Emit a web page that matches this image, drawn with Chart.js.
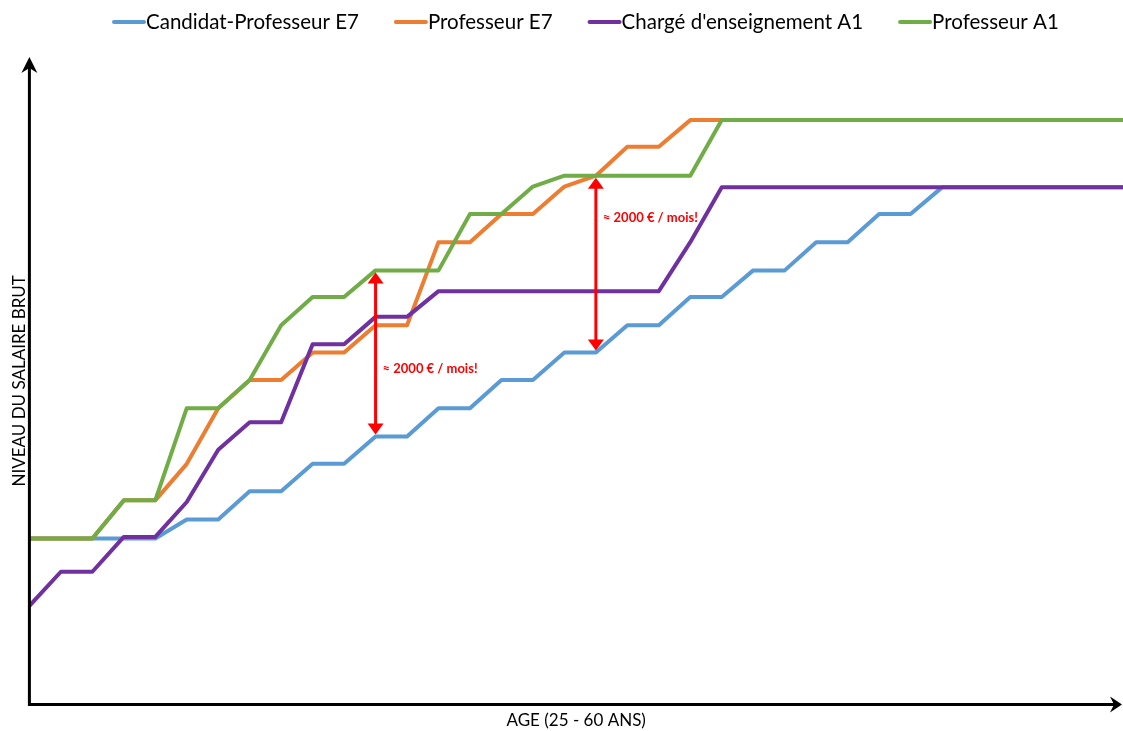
<!DOCTYPE html>
<html>
<head>
<meta charset="utf-8">
<title>Niveau du salaire brut</title>
<script src="https://cdn.jsdelivr.net/npm/chart.js@4.4.1/dist/chart.umd.min.js"></script>
<style>
  html, body { margin: 0; padding: 0; background: #fff; overflow: hidden; }
  #wrap { width: 1123px; height: 731px; position: relative; }
</style>
</head>
<body>
<div id="wrap"><canvas id="salaryChart"></canvas></div>
<script>
'use strict';

// Data (ages on x, gross salary level, in € / month)
let ages = [25, 26, 27, 28, 29, 30, 31, 32, 33, 34, 35, 36, 37, 38, 39, 40, 41, 42,
  43, 44, 45, 46, 47, 48, 49, 50, 51, 52, 53, 54, 55, 56, 57, 58, 59, 60];

let seriesNames = ['Candidat-Professeur E7', 'Professeur E7', "Chargé d'enseignement A1", 'Professeur A1'];
let seriesColors = ['#5B9BD5', '#ED7D31', '#7030A0', '#70AD47'];

let candidatE7 = [2000, 2000, 2000, 2000, 2000, 2230, 2230, 2570, 2570, 2900, 2900, 3230,
  3230, 3570, 3570, 3910, 3910, 4240, 4240, 4570, 4570, 4910, 4910, 5230,
  5230, 5570, 5570, 5910, 5910, 6230, 6230, 6230, 6230, 6230, 6230, 6230];
let professeurE7 = [2000, 2000, 2000, 2460, 2460, 2900, 3570, 3910, 3910, 4240, 4240, 4570,
  4570, 5570, 5570, 5910, 5910, 6240, 6370, 6720, 6720, 7040, 7040, 7040,
  7040, 7040, 7040, 7040, 7040, 7040, 7040, 7040, 7040, 7040, 7040, 7040];
let chargeA1 = [1190, 1600, 1600, 2020, 2020, 2440, 3070, 3400, 3400, 4340, 4340, 4670,
  4670, 4980, 4980, 4980, 4980, 4980, 4980, 4980, 4980, 5570, 6230, 6230,
  6230, 6230, 6230, 6230, 6230, 6230, 6230, 6230, 6230, 6230, 6230, 6230];
let professeurA1 = [2000, 2000, 2000, 2460, 2460, 3570, 3570, 3910, 4570, 4910, 4910, 5230,
  5230, 5230, 5910, 5910, 6240, 6370, 6370, 6370, 6370, 6370, 7040, 7040,
  7040, 7040, 7040, 7040, 7040, 7040, 7040, 7040, 7040, 7040, 7040, 7040];

// the two "gap" arrows, from Professeur A1 down to Candidat-Professeur E7
let gapAges = [36, 43];
let gapTextLevels = [4040, 5860];
let gapText = '≈ 2000 € / mois!';

let fontFamily = "Lato, 'Open Sans', sans-serif";

function toPoints(values) {
  return ages.map((age, i) => ({ x: age, y: values[i] }));
}

// arrow head helper, tip at (x, y)
function arrowHead(ctx, x, y, angle, len, half, notch) {
  ctx.save();
  ctx.translate(x, y);
  ctx.rotate(angle);
  ctx.beginPath();
  ctx.moveTo(0, 0);
  ctx.lineTo(-len, -half);
  ctx.lineTo(-len + notch, 0);
  ctx.lineTo(-len, half);
  ctx.closePath();
  ctx.fill();
  ctx.restore();
}

// Axis lines with arrows + the red annotations
const arrowsPlugin = {
  id: 'arrows',
  afterDatasetsDraw(chart) {
    const ctx = chart.ctx;
    const area = chart.chartArea;
    const xScale = chart.scales.x;
    const yScale = chart.scales.y;

    // red double arrows
    ctx.save();
    ctx.strokeStyle = '#FF0000';
    ctx.fillStyle = '#FF0000';
    ctx.lineWidth = 3;
    for (let i = 0; i < gapAges.length; i++) {
      let idx = ages.indexOf(gapAges[i]);
      let x = xScale.getPixelForValue(gapAges[i]);
      let yTop = yScale.getPixelForValue(professeurA1[idx]) + 2;
      let yBottom = yScale.getPixelForValue(candidatE7[idx]) - 2;
      ctx.beginPath();
      ctx.moveTo(x, yTop + 8);
      ctx.lineTo(x, yBottom - 8);
      ctx.stroke();
      arrowHead(ctx, x, yTop, -Math.PI / 2, 11, 8, 0);
      arrowHead(ctx, x, yBottom, Math.PI / 2, 11, 8, 0);

      ctx.font = 'bold 13px ' + fontFamily;
      ctx.textAlign = 'left';
      ctx.textBaseline = 'middle';
      ctx.fillText(gapText, x + 7, yScale.getPixelForValue(gapTextLevels[i]));
    }
    ctx.restore();

    // black axes
    ctx.save();
    ctx.strokeStyle = '#000';
    ctx.fillStyle = '#000';
    ctx.lineWidth = 3;
    ctx.beginPath();
    ctx.moveTo(area.left, area.top + 8);
    ctx.lineTo(area.left, area.bottom);
    ctx.lineTo(area.right - 8, area.bottom);
    ctx.stroke();
    arrowHead(ctx, area.left, area.top, -Math.PI / 2, 16, 8, 5);
    arrowHead(ctx, area.right - 1, area.bottom, 0, 12, 8, 4);
    ctx.restore();
  }
};

// legend drawn as line + text right after it, like the original
const lineLegendPlugin = {
  id: 'lineLegend',
  afterDraw(chart) {
    const ctx = chart.ctx;
    let x = 112;
    let y = 22;
    ctx.save();
    ctx.font = '20.5px ' + fontFamily;
    ctx.textAlign = 'left';
    ctx.textBaseline = 'middle';
    ctx.lineCap = 'round';
    ctx.lineWidth = 4;
    for (let i = 0; i < seriesNames.length; i++) {
      ctx.strokeStyle = seriesColors[i];
      ctx.beginPath();
      ctx.moveTo(x + 2, y);
      ctx.lineTo(x + 32, y);
      ctx.stroke();
      ctx.fillStyle = '#000';
      ctx.fillText(seriesNames[i], x + 34, y);
      x += 34 + ctx.measureText(seriesNames[i]).width + 35;
    }
    ctx.restore();
  }
};

Chart.defaults.font.family = fontFamily;
Chart.defaults.color = '#000';

const ctx = document.getElementById('salaryChart');
new Chart(ctx, {
  type: 'line',
  data: {
    datasets: [
      { label: seriesNames[0], data: toPoints(candidatE7), borderColor: seriesColors[0], order: 3 },
      { label: seriesNames[1], data: toPoints(professeurE7), borderColor: seriesColors[1], order: 2 },
      { label: seriesNames[2], data: toPoints(chargeA1), borderColor: seriesColors[2], order: 1 },
      { label: seriesNames[3], data: toPoints(professeurA1), borderColor: seriesColors[3], order: 0 }
    ]
  },
  options: {
    responsive: true,
    maintainAspectRatio: false,
    animation: false,
    devicePixelRatio: 1,
    layout: { padding: { top: 57, left: 0, right: 0, bottom: 0 }, autoPadding: false },
    elements: {
      point: { radius: 0 },
      line: { borderWidth: 4, tension: 0, borderJoinStyle: 'round', borderCapStyle: 'round' }
    },
    scales: {
      x: {
        type: 'linear',
        min: 25,
        max: 59.75,
        grid: { display: false, drawTicks: false },
        border: { display: false },
        ticks: { display: false },
        title: { display: true, text: 'AGE (25 - 60 ANS)', font: { size: 17 }, padding: { top: 6, bottom: 0 } }
      },
      y: {
        min: 0,
        max: 7800,
        grid: { display: false, drawTicks: false },
        border: { display: false },
        ticks: { display: false },
        title: { display: true, text: 'NIVEAU DU SALAIRE BRUT', font: { size: 17 }, padding: { top: 9, bottom: 0 } }
      }
    },
    plugins: {
      legend: { display: false },
      tooltip: { enabled: false }
    }
  },
  plugins: [arrowsPlugin, lineLegendPlugin]
});
</script>
</body>
</html>
